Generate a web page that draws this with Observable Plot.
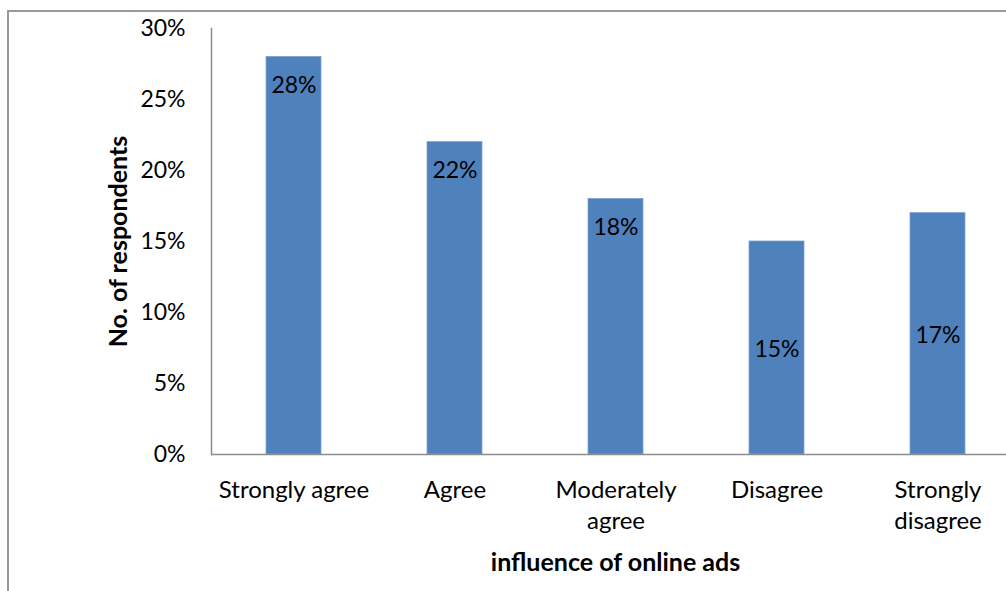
<!DOCTYPE html>
<html>
<head>
<meta charset="utf-8">
<script src="https://cdn.jsdelivr.net/npm/d3@7"></script>
<script src="https://cdn.jsdelivr.net/npm/@observablehq/plot@0.6"></script>
<style>
  html, body { margin: 0; padding: 0; background: #fff; overflow: hidden; width: 1006px; height: 591px; }
  #wrap { position: relative; width: 1006px; height: 591px; overflow: hidden; }
  #border { position: absolute; left: 7px; top: 10px; width: 1100px; height: 700px; border-left: 2px solid #999; border-top: 2px solid #999; box-sizing: border-box; }
  #chart { position: absolute; left: 0; top: 0; width: 1030px; }
  #chart svg { max-width: none !important; }
  svg text { font-family: Lato, "Noto Sans", sans-serif; }
</style>
</head>
<body>
<div id="wrap"><div id="border"></div><div id="chart"></div></div>
<script>
const categories = ["Strongly agree", "Agree", "Moderately agree", "Disagree", "Strongly disagree"];
const tickLabels = ["Strongly agree", "Agree", "Moderately\nagree", "Disagree", "Strongly\ndisagree"];
const values = [0.28, 0.22, 0.18, 0.15, 0.17];
const valueLabels = ["28%", "22%", "18%", "15%", "17%"];
const centeredLabels = ["Disagree", "Strongly disagree"];
const yTicks = [0, 0.05, 0.10, 0.15, 0.20, 0.25, 0.30];
const xTitle = "influence of online ads";
const yTitle = "No. of respondents";

const data = categories.map((c, i) => ({category: c, value: values[i], label: valueLabels[i], tick: tickLabels[i]}));
const topData = data.filter(d => !centeredLabels.includes(d.category));
const midData = data.filter(d => centeredLabels.includes(d.category));

const plot = Plot.plot({
  width: 1030,
  height: 591,
  marginLeft: 211,
  marginRight: 11,
  marginTop: 28,
  marginBottom: 137,
  style: {fontFamily: "Lato, 'Noto Sans', sans-serif", fontSize: "24px", color: "#000", background: "transparent", maxWidth: "none"},
  x: {domain: categories, paddingInner: 0.66, paddingOuter: 0.33, align: 0.5},
  y: {domain: [0, 0.30]},
  marks: [
    Plot.barY(data, {x: "category", y: "value", fill: "#4F81BD", stroke: "#7ea3d3", strokeWidth: 0.8}),
    Plot.ruleY([0], {stroke: "#8c8c8c", strokeWidth: 1.5}),
    Plot.frame({anchor: "left", stroke: "#8c8c8c", strokeWidth: 1.5}),
    Plot.axisY({ticks: yTicks, tickFormat: d3.format(".0%"), tickSize: 0, tickPadding: 26, fontSize: 23, label: null}),
    Plot.axisX({tickFormat: (d) => tickLabels[categories.indexOf(d)], tickSize: 0, tickPadding: 21, fontSize: 24, lineHeight: 1.3, label: null}),
    Plot.text(topData, {x: "category", y: "value", text: "label", dy: 29, fontSize: 23, fill: "#000"}),
    Plot.text(midData, {x: "category", y: d => d.value / 2, text: "label", dy: 2, fontSize: 23, fill: "#000"}),
    Plot.text([xTitle], {frameAnchor: "bottom", textAnchor: "middle", dy: 116, fontSize: 25, fontWeight: "bold", fill: "#000"}),
    Plot.text([yTitle], {frameAnchor: "left", textAnchor: "middle", dx: -93, rotate: -90, fontSize: 25, fontWeight: "bold", fill: "#000"})
  ]
});
document.getElementById("chart").appendChild(plot);
</script>
</body>
</html>
